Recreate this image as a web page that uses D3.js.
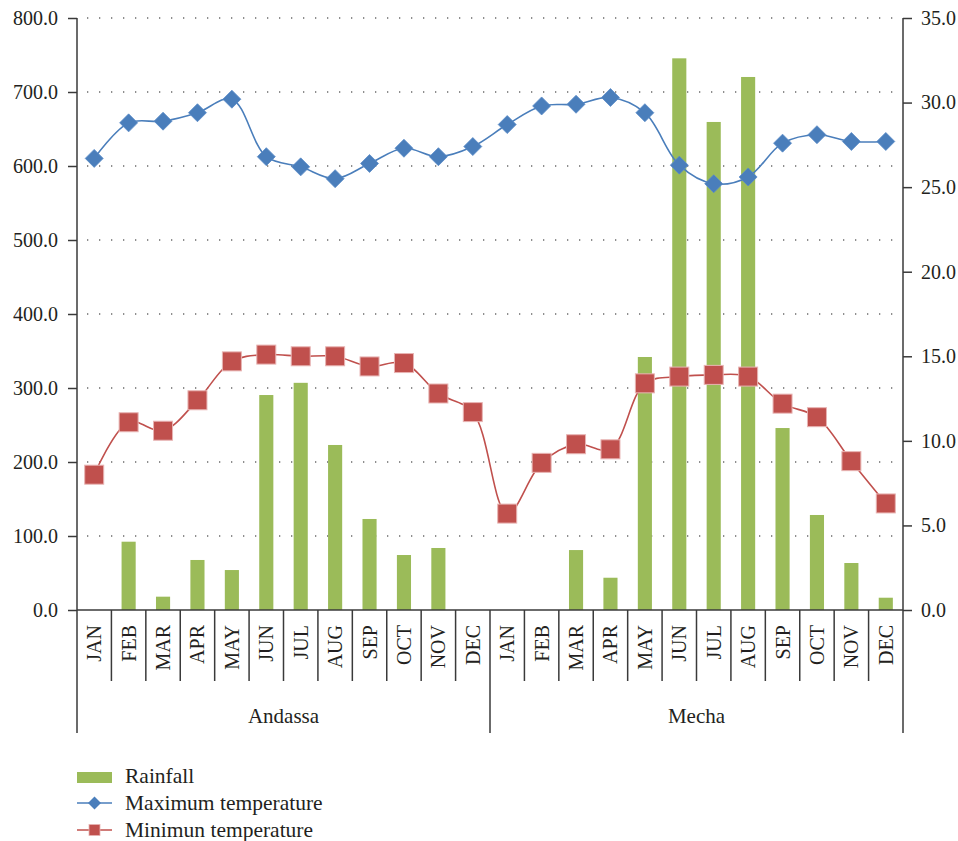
<!DOCTYPE html>
<html>
<head>
<meta charset="utf-8">
<script src="https://cdn.jsdelivr.net/npm/d3@7"></script>
<style>
  html, body { margin: 0; padding: 0; background: #fff; }
  svg { display: block; }
</style>
</head>
<body>
<svg id="chart" width="958" height="841"></svg>
<script>
// ---- data ----
const groups = ["Andassa", "Mecha"];
const months = ["JAN","FEB","MAR","APR","MAY","JUN","JUL","AUG","SEP","OCT","NOV","DEC"];
const rainfall = [
  0, 92.3, 18, 67.6, 54, 290.5, 307, 223, 123, 74.3, 83.8, 0,
  0, 0, 81, 43.6, 341.9, 745.5, 659.5, 720.3, 245.9, 128.4, 63.5, 16.6
];
const maxTemp = [
  26.7, 28.8, 28.9, 29.4, 30.2, 26.8, 26.2, 25.5, 26.4, 27.3, 26.8, 27.4,
  28.7, 29.8, 29.9, 30.3, 29.4, 26.3, 25.2, 25.6, 27.6, 28.1, 27.7, 27.7
];
const minTemp = [
  8.0, 11.1, 10.6, 12.4, 14.7, 15.1, 15.0, 15.0, 14.4, 14.6, 12.8, 11.7,
  5.7, 8.7, 9.8, 9.5, 13.4, 13.8, 13.9, 13.8, 12.2, 11.4, 8.8, 6.3
];
const leftTicks = [0, 100, 200, 300, 400, 500, 600, 700, 800];
const rightTicks = [0, 5, 10, 15, 20, 25, 30, 35];
const seriesNames = ["Rainfall", "Maximum temperature", "Minimun temperature"];

// ---- layout ----
const FONT = '"Liberation Serif"';
const TXT = "#231F20";
const svg = d3.select("#chart");
const L = 77, R = 903, T = 18, B = 610;
const GREEN = "#9BBB59", BLUE = "#4A7EBB", RED = "#C0504D", AX = "#3a3a3a";

const cats = d3.range(groups.length * months.length);
const x = d3.scaleBand().domain(cats).range([L, R]).padding(0);
const bw = x.bandwidth();
const yL = d3.scaleLinear().domain([0, 800]).range([B, T]);
const yR = d3.scaleLinear().domain([0, 35]).range([B, T]);

// grid
svg.append("g").selectAll("line").data(leftTicks.filter(d => d > 0)).join("line")
  .attr("x1", L + 5).attr("x2", R).attr("y1", d => yL(d)).attr("y2", d => yL(d))
  .attr("stroke", "#6a6a6a").attr("stroke-width", 1.5)
  .attr("stroke-dasharray", "1.3 10.7").attr("stroke-dashoffset", -5);

// bars
const barW = bw * 0.41;
svg.append("g").selectAll("rect").data(rainfall).join("rect")
  .attr("x", (d, i) => x(i) + (bw - barW) / 2)
  .attr("width", barW)
  .attr("y", d => yL(d))
  .attr("height", d => yL(0) - yL(d))
  .attr("fill", GREEN);

// axes
const axL = svg.append("g").attr("transform", `translate(${L},0)`)
  .call(d3.axisLeft(yL).tickValues(leftTicks).tickFormat(d3.format(".1f")).tickSize(9).tickPadding(10));
const axR = svg.append("g").attr("transform", `translate(${R},0)`)
  .call(d3.axisRight(yR).tickValues(rightTicks).tickFormat(d3.format(".1f")).tickSize(9).tickPadding(9));
[axL, axR].forEach(a => {
  a.attr("font-family", null).attr("font-size", null);
  a.select(".domain").remove();
  a.selectAll(".tick line").attr("stroke", AX).attr("stroke-width", 1.5);
  a.selectAll(".tick text").style("font-family", FONT).attr("font-size", 20).attr("fill", TXT);
});
svg.append("line").attr("x1", L).attr("x2", L).attr("y1", T).attr("y2", 733).attr("stroke", AX).attr("stroke-width", 1.5);
svg.append("line").attr("x1", R).attr("x2", R).attr("y1", T).attr("y2", 733).attr("stroke", AX).attr("stroke-width", 1.5);
svg.append("line").attr("x1", L).attr("x2", R).attr("y1", B).attr("y2", B).attr("stroke", AX).attr("stroke-width", 1.5);

// month separators
svg.append("g").selectAll("line").data(cats.slice(1)).join("line")
  .attr("x1", d => x(d)).attr("x2", d => x(d))
  .attr("y1", B).attr("y2", d => (d % months.length === 0) ? 733 : 681)
  .attr("stroke", AX).attr("stroke-width", 1.5);

// month labels
svg.append("g").selectAll("text").data(cats).join("text")
  .attr("transform", d => `translate(${x(d) + bw / 2},625) rotate(-90)`)
  .attr("text-anchor", "end").attr("dy", "0.35em")
  .style("font-family", FONT).attr("font-size", 20).attr("fill", TXT)
  .text(d => months[d % months.length]);

// group labels
svg.append("g").selectAll("text").data(groups).join("text")
  .attr("x", (d, i) => (x(i * months.length) + x(i * months.length + months.length - 1) + bw) / 2)
  .attr("y", 723).attr("text-anchor", "middle")
  .style("font-family", FONT).attr("font-size", 21).attr("fill", TXT)
  .text(d => d);

// lines (smoothed, as in the original)
const smooth = d3.line().x((d, i) => x(i) + bw / 2).y(d => yR(d)).curve(d3.curveCatmullRom.alpha(0.5));
svg.append("path").datum(maxTemp).attr("d", smooth).attr("fill", "none").attr("stroke", BLUE).attr("stroke-width", 1.6);
svg.append("path").datum(minTemp).attr("d", smooth).attr("fill", "none").attr("stroke", RED).attr("stroke-width", 1.6);

const dia = r => `M0,${-r}L${r},0L0,${r}L${-r},0Z`;
svg.append("g").selectAll("path").data(maxTemp).join("path")
  .attr("transform", (d, i) => `translate(${x(i) + bw / 2},${yR(d)})`)
  .attr("d", dia(9)).attr("fill", BLUE).attr("stroke", "#5b8cc8").attr("stroke-width", 0.8);
svg.append("g").selectAll("rect").data(minTemp).join("rect")
  .attr("x", (d, i) => x(i) + bw / 2 - 9.5).attr("y", d => yR(d) - 9.5)
  .attr("width", 19).attr("height", 19)
  .attr("fill", RED).attr("stroke", "#e8b4b3").attr("stroke-width", 1);

// legend
const lg = svg.append("g");
lg.append("rect").attr("x", 77).attr("y", 772).attr("width", 35).attr("height", 11).attr("fill", GREEN);
lg.append("line").attr("x1", 77).attr("x2", 112).attr("y1", 803).attr("y2", 803).attr("stroke", BLUE).attr("stroke-width", 1.6);
lg.append("path").attr("transform", "translate(94.5,803)").attr("d", dia(6.5)).attr("fill", BLUE);
lg.append("line").attr("x1", 77).attr("x2", 112).attr("y1", 830).attr("y2", 830).attr("stroke", RED).attr("stroke-width", 1.6);
lg.append("rect").attr("x", 89).attr("y", 824.5).attr("width", 11).attr("height", 11).attr("fill", RED).attr("stroke", "#e8b4b3").attr("stroke-width", 0.8);
lg.selectAll("text").data(seriesNames).join("text")
  .attr("x", 125).attr("y", (d, i) => 783 + i * 27)
  .style("font-family", FONT).attr("font-size", 21.5).attr("fill", TXT)
  .text(d => d);
</script>
</body>
</html>
